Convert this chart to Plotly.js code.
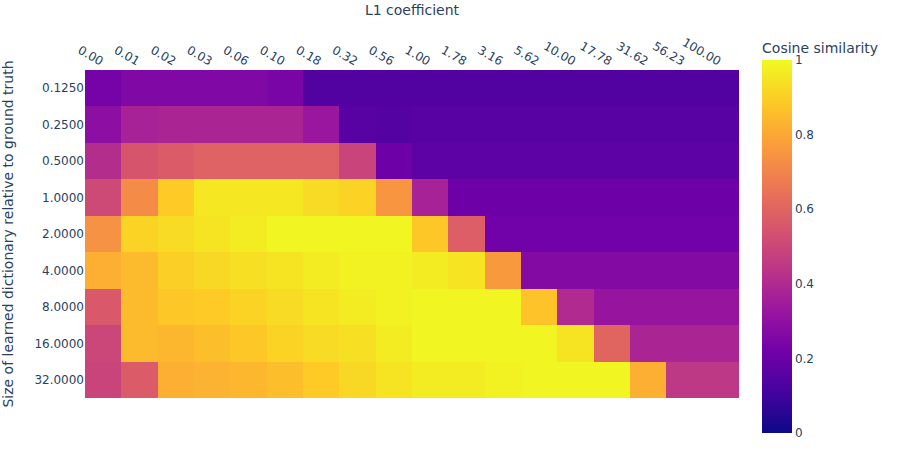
<!DOCTYPE html>
<html><head><meta charset="utf-8">
<script src="https://cdn.plot.ly/plotly-3.0.1.min.js"></script>
<style>body{margin:0;background:#fff}</style>
</head><body>
<div id="chart" style="width:900px;height:450px"></div>
<script>
const l1Labels = ["0.00","0.01","0.02","0.03","0.06","0.10","0.18","0.32","0.56","1.00","1.78","3.16","5.62","10.00","17.78","31.62","56.23","100.00"];
const sizeLabels = ["0.1250","0.2500","0.5000","1.0000","2.0000","4.0000","8.0000","16.0000","32.0000"];

const row_0125 = [0.23,0.26,0.26,0.26,0.26,0.24,0.14,0.14,0.14,0.14,0.14,0.14,0.14,0.14,0.14,0.14,0.14,0.14];
const row_025  = [0.29,0.37,0.38,0.38,0.38,0.38,0.33,0.16,0.15,0.16,0.16,0.16,0.16,0.16,0.16,0.16,0.16,0.16];
const row_05   = [0.41,0.55,0.57,0.59,0.59,0.59,0.59,0.49,0.21,0.17,0.17,0.17,0.17,0.17,0.17,0.17,0.17,0.17];
const row_1    = [0.51,0.72,0.89,0.96,0.96,0.96,0.93,0.91,0.75,0.37,0.21,0.21,0.21,0.21,0.21,0.21,0.21,0.21];
const row_2    = [0.74,0.91,0.93,0.95,0.97,0.99,0.99,0.99,0.99,0.88,0.58,0.22,0.22,0.22,0.22,0.22,0.22,0.22];
const row_4    = [0.82,0.85,0.90,0.92,0.94,0.95,0.97,0.98,0.98,0.97,0.95,0.76,0.27,0.27,0.27,0.27,0.27,0.27];
const row_8    = [0.56,0.85,0.88,0.89,0.91,0.93,0.95,0.97,0.98,0.99,0.99,0.99,0.87,0.40,0.32,0.32,0.32,0.32];
const row_16   = [0.50,0.85,0.84,0.86,0.88,0.91,0.93,0.94,0.97,0.99,0.99,0.99,0.99,0.95,0.60,0.38,0.38,0.38];
const row_32   = [0.49,0.57,0.82,0.83,0.84,0.86,0.89,0.92,0.95,0.97,0.97,0.98,0.99,0.99,0.99,0.82,0.45,0.45];

const z = [row_0125,row_025,row_05,row_1,row_2,row_4,row_8,row_16,row_32];

const plasma = [
 [0.0,"#0d0887"],[0.1111,"#46039f"],[0.2222,"#7201a8"],[0.3333,"#9c179e"],
 [0.4444,"#bd3786"],[0.5556,"#d8576b"],[0.6667,"#ed7953"],[0.7778,"#fb9f3a"],
 [0.8889,"#fdca26"],[1.0,"#f0f921"]];

const trace = {
  type: "heatmap",
  x: l1Labels, y: sizeLabels, z: z,
  colorscale: plasma, zmin: 0, zmax: 1,
  colorbar: {
    title: {text: "Cosine similarity", side: "top", font: {size: 14, color: "#2a3f5f"}},
    thickness: 30, outlinewidth: 0, ticks: "",
    tickfont: {size: 12, color: "#2a3f5f"},
    tickvals: [0,0.2,0.4,0.6,0.8,1], ticktext: ["0","0.2","0.4","0.6","0.8","1"],
    lenmode: "pixels", len: 394, y: -0.107, yanchor: "bottom",
    x: 1.02, xanchor: "left", xpad: 10, ypad: 0
  },
  hovertemplate: "L1=%{x}<br>size=%{y}<br>%{z}<extra></extra>"
};

const layout = {
  width: 900, height: 450,
  margin: {l: 85, r: 159, t: 70, b: 52},
  paper_bgcolor: "#fff", plot_bgcolor: "#fff",
  font: {family: "'DejaVu Sans', Verdana, sans-serif", size: 12, color: "#2a3f5f"},
  xaxis: {
    side: "top", type: "category", tickangle: 30, showgrid: false, zeroline: false, ticks: "",
    automargin: false,
    title: {text: "L1 coefficient", font: {size: 14, color: "#2a3f5f"}, standoff: 16}
  },
  yaxis: {
    type: "category", autorange: "reversed", showgrid: false, zeroline: false, ticks: "",
    automargin: false,
    title: {text: "Size of learned dictionary relative to ground truth", font: {size: 14, color: "#2a3f5f"}, standoff: 28}
  }
};

Plotly.newPlot("chart", [trace], layout, {displayModeBar: false});
</script>
</body></html>
